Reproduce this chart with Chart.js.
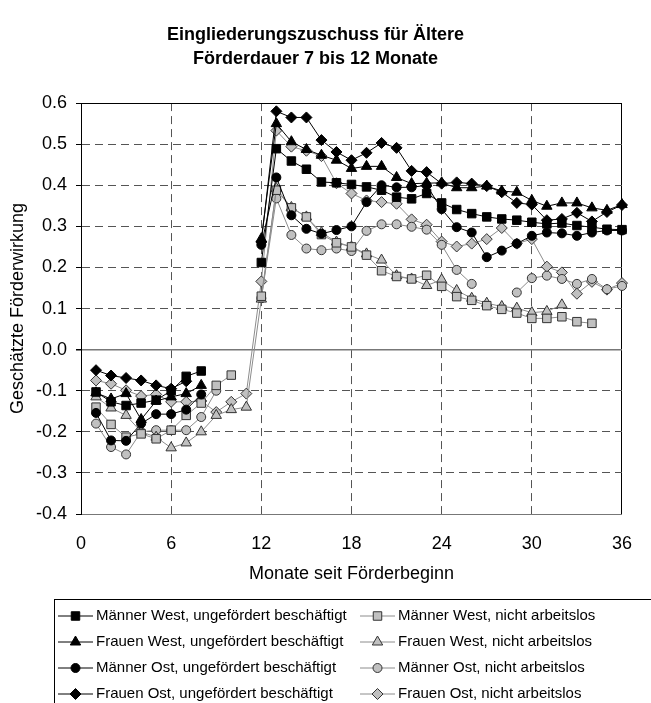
<!DOCTYPE html>
<html>
<head>
<meta charset="utf-8">
<script src="https://cdn.jsdelivr.net/npm/chart.js@4/dist/chart.umd.min.js"></script>
<style>
  body { margin: 0; background: #fff; }
</style>
</head>
<body>
<canvas id="effectChart" width="651" height="703"></canvas>
<script>
// Months 1..36 since start of the subsidy
const months = Array.from({ length: 36 }, (_, i) => i + 1);
const xTicks = [0, 6, 12, 18, 24, 30, 36];

// Estimated effects, null where no estimate is shown
const maennerWestBeschaeftigt = [-0.103, -0.127, -0.136, -0.130, -0.123, -0.100, -0.065, -0.052, null, null, null, 0.212,
  0.489, 0.459, 0.439, 0.408, 0.406, 0.402, 0.396, 0.388, 0.371, 0.367, 0.380, 0.357,
  0.341, 0.331, 0.323, 0.318, 0.315, 0.310, 0.306, 0.308, 0.302, 0.298, 0.293, 0.292];
const maennerWestNichtAL = [-0.140, -0.182, -0.213, -0.205, -0.217, -0.196, -0.160, -0.130, -0.087, -0.062, null, 0.130,
  0.388, 0.345, 0.323, 0.280, 0.260, 0.250, 0.230, 0.192, 0.178, 0.172, 0.181, 0.154,
  0.129, 0.120, 0.107, 0.098, 0.089, 0.076, 0.076, 0.080, 0.068, 0.064, null, null];
const frauenWestBeschaeftigt = [-0.105, -0.120, -0.107, -0.170, -0.125, -0.115, -0.107, -0.087, null, null, null, 0.270,
  0.550, 0.506, 0.487, 0.473, 0.461, 0.441, 0.446, 0.446, 0.419, 0.404, 0.405, 0.406,
  0.394, 0.394, 0.398, 0.386, 0.383, 0.363, 0.349, 0.357, 0.357, 0.345, 0.339, 0.353];
const frauenWestNichtAL = [-0.115, -0.142, -0.160, -0.200, -0.213, -0.239, -0.227, -0.200, -0.160, -0.146, -0.140, 0.123,
  0.392, 0.346, 0.323, 0.285, 0.262, 0.250, 0.233, 0.218, 0.180, 0.172, 0.156, 0.170,
  0.144, 0.125, 0.113, 0.105, 0.101, 0.090, 0.093, 0.109, null, null, null, null];
const maennerOstBeschaeftigt = [-0.154, -0.221, -0.222, -0.180, -0.157, -0.157, -0.146, -0.109, null, null, null, 0.255,
  0.419, 0.327, 0.294, 0.282, 0.291, 0.300, 0.359, 0.400, 0.395, 0.395, 0.400, 0.342,
  0.298, 0.285, 0.225, 0.241, 0.258, 0.277, 0.285, 0.283, 0.277, 0.285, 0.290, 0.290];
const maennerOstNichtAL = [-0.180, -0.237, -0.255, -0.200, -0.196, -0.196, -0.196, -0.164, -0.100, null, null, 0.125,
  0.368, 0.279, 0.246, 0.242, 0.246, 0.240, 0.289, 0.305, 0.305, 0.299, 0.292, 0.255,
  0.194, 0.160, null, null, 0.139, 0.174, 0.180, 0.172, 0.160, 0.172, 0.147, 0.155];
const frauenOstBeschaeftigt = [-0.050, -0.063, -0.069, -0.075, -0.087, -0.095, -0.077, null, null, null, null, 0.262,
  0.580, 0.565, 0.565, 0.510, 0.481, 0.461, 0.479, 0.503, 0.491, 0.435, 0.432, 0.404,
  0.407, 0.404, 0.398, 0.383, 0.357, 0.353, 0.315, 0.318, 0.333, 0.312, 0.335, 0.352];
const frauenOstNichtAL = [-0.075, -0.083, -0.099, -0.113, -0.109, -0.127, -0.127, -0.125, -0.152, -0.127, -0.107, 0.166,
  0.533, 0.494, 0.484, 0.471, 0.405, 0.380, 0.363, 0.359, 0.355, 0.317, 0.304, 0.263,
  0.251, 0.258, 0.269, 0.296, 0.258, 0.269, 0.202, 0.188, 0.136, 0.165, 0.146, 0.162];

const FONT = '"Liberation Sans", Arial, sans-serif';
Chart.defaults.font.family = FONT;
Chart.defaults.color = '#000';

const near = (a, b) => Math.abs(a - b) < 1e-6;

// Helper to build one series
function series(label, values, style, filled) {
  return {
    label: label,
    data: months.map((m, i) => ({ x: m, y: values[i] })),
    borderColor: filled ? '#000' : '#8c8c8c',
    borderWidth: 1,
    pointStyle: style,
    pointRadius: style === 'circle' ? 4.5 : (style === 'rectRot' ? 5.5 : 6),
    pointBackgroundColor: filled ? '#000' : '#c0c0c0',
    pointBorderColor: filled ? '#000' : '#333',
    pointBorderWidth: 1,
    spanGaps: false,
    fill: false,
    tension: 0,
    clip: 10,
    order: filled ? 0 : 1
  };
}

// Boxed two-column legend under the plot
const boxLegend = {
  id: 'boxLegend',
  afterDraw(chart) {
    const ctx = chart.ctx;
    ctx.save();
    ctx.lineWidth = 1;
    ctx.strokeStyle = '#000';
    ctx.strokeRect(54.5, 599.5, 650, 150);
    ctx.font = '15px ' + FONT;
    ctx.textBaseline = 'middle';
    chart.data.datasets.forEach((ds, i) => {
      const x0 = i % 2 ? 360 : 58;
      const y = 616 + Math.floor(i / 2) * 26;
      ctx.strokeStyle = ds.borderColor;
      ctx.beginPath();
      ctx.moveTo(x0, y);
      ctx.lineTo(x0 + 35, y);
      ctx.stroke();
      ctx.fillStyle = ds.pointBackgroundColor;
      ctx.strokeStyle = ds.pointBorderColor;
      Chart.helpers.drawPoint(ctx, { pointStyle: ds.pointStyle, radius: ds.pointRadius, borderWidth: 1, rotation: 0 }, x0 + 17.5, y);
      ctx.fillStyle = '#000';
      ctx.fillText(ds.label, x0 + 38, y);
    });
    ctx.restore();
  }
};

const ctx = document.getElementById('effectChart').getContext('2d');
new Chart(ctx, {
  type: 'line',
  data: {
    datasets: [
      series('Männer West, ungefördert beschäftigt', maennerWestBeschaeftigt, 'rect', true),
      series('Männer West, nicht arbeitslos', maennerWestNichtAL, 'rect', false),
      series('Frauen West, ungefördert beschäftigt', frauenWestBeschaeftigt, 'triangle', true),
      series('Frauen West, nicht arbeitslos', frauenWestNichtAL, 'triangle', false),
      series('Männer Ost, ungefördert beschäftigt', maennerOstBeschaeftigt, 'circle', true),
      series('Männer Ost, nicht arbeitslos', maennerOstNichtAL, 'circle', false),
      series('Frauen Ost, ungefördert beschäftigt', frauenOstBeschaeftigt, 'rectRot', true),
      series('Frauen Ost, nicht arbeitslos', frauenOstNichtAL, 'rectRot', false)
    ]
  },
  options: {
    responsive: false,
    animation: false,
    layout: { padding: { left: 0, right: 20, top: 0, bottom: 109 } },
    plugins: {
      legend: { display: false },
      tooltip: { enabled: false },
      title: {
        display: true,
        text: ['Eingliederungszuschuss für Ältere', 'Förderdauer 7 bis 12 Monate'],
        font: { size: 18, weight: 'bold', lineHeight: 1.28 },
        color: '#000',
        padding: { top: 24, bottom: 33 }
      }
    },
    scales: {
      x: {
        type: 'linear',
        min: 0,
        max: 36,
        afterFit: s => { s.height = 80; },
        afterBuildTicks: s => { s.ticks = xTicks.map(v => ({ value: v })); },
        ticks: { font: { size: 18 }, padding: 19, color: '#000' },
        grid: {
          drawTicks: false,
          color: c => (c.tick && near(c.tick.value, 36)) ? '#000' : (c.tick && near(c.tick.value, 0) ? 'rgba(0,0,0,0)' : '#555'),
          lineWidth: 1
        },
        border: {
          color: '#777',
          width: 1,
          dash: c => (c.tick && !near(c.tick.value, 36)) ? [8, 5] : []
        },
        title: {
          display: true,
          text: 'Monate seit Förderbeginn',
          font: { size: 18 },
          padding: { top: 0, bottom: 9 }
        }
      },
      y: {
        min: -0.4,
        max: 0.6,
        afterFit: s => { s.width = 81; },
        ticks: {
          stepSize: 0.1,
          font: { size: 18 },
          padding: 9,
          color: '#000',
          callback: v => Number(v).toFixed(1)
        },
        grid: {
          drawTicks: true,
          tickLength: 5,
          tickColor: '#000',
          color: c => {
            if (!c.tick) return '#555';
            const v = c.tick.value;
            if (near(v, 0.6)) return '#000';
            if (near(v, 0) || near(v, -0.4)) return '#777';
            return '#555';
          },
          lineWidth: c => (c.tick && near(c.tick.value, 0)) ? 1.5 : 1
        },
        border: {
          color: '#000',
          width: 1,
          dash: c => {
            if (!c.tick) return [];
            const v = c.tick.value;
            return (near(v, 0.6) || near(v, 0) || near(v, -0.4)) ? [] : [8, 5];
          }
        },
        title: {
          display: true,
          text: 'Geschätzte Förderwirkung',
          font: { size: 18 },
          padding: { top: 7, bottom: 0 }
        }
      }
    }
  },
  plugins: [boxLegend]
});
</script>
</body>
</html>
